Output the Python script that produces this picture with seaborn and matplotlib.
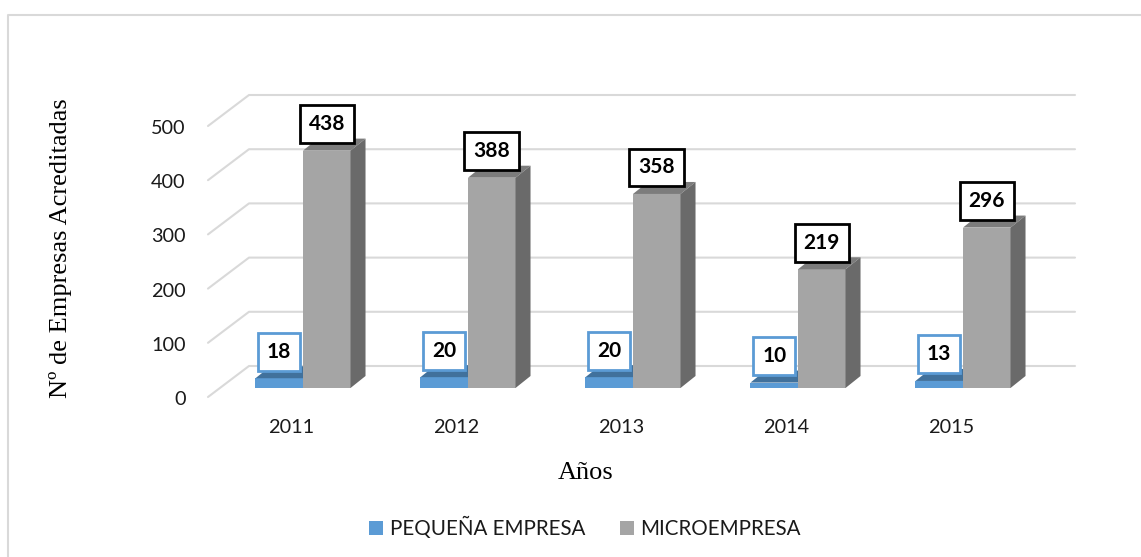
import numpy as np
import pandas as pd
import seaborn as sns
import matplotlib
matplotlib.use('Agg')
from matplotlib import pyplot as plt
from matplotlib.lines import Line2D
from matplotlib.patches import Polygon, Rectangle
from matplotlib.transforms import Affine2D

years = ['2011', '2012', '2013', '2014', '2015']
pequena = [18, 20, 20, 10, 13]
micro = [438, 388, 358, 219, 296]
series_names = ['PEQUEÑA EMPRESA', 'MICROEMPRESA']
y_ticks = [0, 100, 200, 300, 400, 500]

W, H = 1141, 557
PX_X = 165.0      # pixels per category
PX_Y = 0.542      # pixels per unit

df = pd.DataFrame({
    'year': years * 2,
    'value': pequena + micro,
    'serie': [series_names[0]] * 5 + [series_names[1]] * 5,
})

sns.set_theme(style='white')
plt.rcParams['font.family'] = ['Lato', 'DejaVu Sans']

fig = plt.figure(figsize=(W / 100, H / 100), dpi=100)
# chart frame: only top and left edges are visible
fig.add_artist(Line2D([8 / W, 8 / W, 1], [0, 1 - 15 / H, 1 - 15 / H], color='#d9d9d9', lw=1.5))

# axes box in pixels: x 208-1075, y 95-397
ax = fig.add_axes([208 / W, 1 - 397 / H, (1075 - 208) / W, (397 - 95) / H])
sns.barplot(df, x='year', y='value', hue='serie', ax=ax, width=0.576, gap=0, saturation=1,
            palette=['#5B9BD5', '#A5A5A5'], zorder=3, legend=False, linewidth=0)

x_left = (208 - 303) / PX_X
x_right = (1075 - 303) / PX_X
y_low = -9 / PX_Y
y_high = 293 / PX_Y
ax.set_xlim(x_left, x_right)
ax.set_ylim(y_low, y_high)
sns.despine(ax=ax, left=True, bottom=True)
ax.patch.set_alpha(0)

# wall gridlines, from the front edge to the back wall
wall_dx = 41 / PX_X
wall_dy = 31 / PX_Y
for v in y_ticks:
    ax.plot([x_left, x_left + wall_dx, x_right],
            [v + y_low, v + y_low + wall_dy, v + y_low + wall_dy],
            color='#d9d9d9', lw=1.5, zorder=1, clip_on=False)

# depth of the bars
dx = 15 / PX_X
dy = 12 / PX_Y
shades = {'#5B9BD5': ('#41719C', '#3E6C96'), '#A5A5A5': ('#7C7C7C', '#6A6A6A')}
for k, cont in enumerate(ax.containers):
    base = ['#5B9BD5', '#A5A5A5'][k]
    top_c, side_c = shades[base]
    edge = ['#5B9BD5', 'black'][k]
    for bar, v in zip(cont.patches, [pequena, micro][k]):
        x0, w, h = bar.get_x(), bar.get_width(), bar.get_height()
        bar.set_zorder(3 + k)
        ax.add_patch(Polygon([(x0, h), (x0 + dx, h + dy), (x0 + w + dx, h + dy), (x0 + w, h)],
                             fc=top_c, ec='none', zorder=3 + k))
        ax.add_patch(Polygon([(x0 + w, 0), (x0 + w + dx, dy), (x0 + w + dx, h + dy), (x0 + w, h)],
                             fc=side_c, ec='none', zorder=3 + k))
        ax.annotate(str(v), (x0 + w / 2, h), xytext=(0, 26.5 * 0.72), textcoords='offset points',
                    ha='center', va='center', fontsize=15, fontweight='bold', color='black',
                    zorder=6, annotation_clip=False,
                    bbox=dict(boxstyle='square,pad=0.43', fc='white', ec=edge, lw=2))

ax.set_yticks(y_ticks)
ax.set_xticks(range(5))
ax.set_xticklabels(years)
ax.tick_params(axis='both', length=0, labelsize=14.3, labelcolor='#1a1a1a')
ax.tick_params(axis='x', pad=16)
ax.tick_params(axis='y', pad=16)
for lab in ax.get_xticklabels():
    lab.set_transform(lab.get_transform() + Affine2D().translate(-12, 0))
for lab in ax.get_yticklabels():
    lab.set_transform(lab.get_transform() + Affine2D().translate(0, -10))

ax.set_xlabel('')
ax.set_ylabel('')
fig.text(61 / W, 1 - 248.5 / H, 'Nº de Empresas Acreditadas', rotation=90, ha='center', va='center',
         family='Liberation Serif', fontsize=19, color='black')
fig.text(586 / W, 1 - 473 / H, 'Años', ha='center', va='center',
         family='Liberation Serif', fontsize=19, color='black')

handles = [Rectangle((0, 0), 1, 1, fc=c, ec='none') for c in ['#5B9BD5', '#A5A5A5']]
fig.legend(handles, series_names, loc='center', bbox_to_anchor=(585 / W, 1 - 528 / H), ncol=2,
           frameon=False, fontsize=14.8, handlelength=0.68, handleheight=0.68, handletextpad=0.3,
           columnspacing=1.7, labelcolor='#1a1a1a')

fig.savefig('out.png', dpi=100)
